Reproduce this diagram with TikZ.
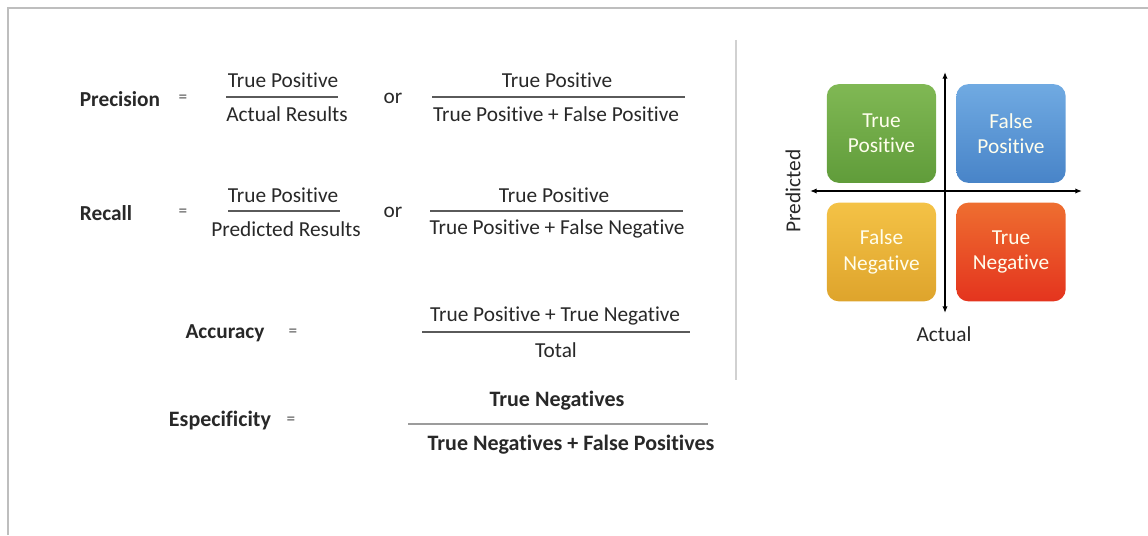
\documentclass[tikz,border=0pt]{standalone}
\usepackage{fontspec}
\setmainfont{Carlito}[Ligatures=NoCommon]
\usetikzlibrary{arrows.meta}

\definecolor{inkgray}{RGB}{40,40,40}
\definecolor{framegray}{RGB}{190,190,190}
\definecolor{bargray}{RGB}{90,90,90}

\tikzset{every picture/.style={line width=0.75pt}}
\tikzset{
  formula/.style={text=inkgray, font=\fontsize{16}{19}\selectfont, inner sep=1pt},
  lhs/.style={formula, font=\fontsize{16}{19}\selectfont\bfseries},
  eqsign/.style={text=inkgray!80, font=\fontsize{13}{15}\selectfont},
  fracbar/.style={draw=bargray, line width=1.5},
  cell/.style={rounded corners=9, minimum width=82, minimum height=74, inner sep=0,
    align=center, text=white!93!yellow, font=\fontsize{16}{19}\selectfont},
  axis/.style={draw=black, line width=1, {Latex[length=5pt,width=4pt]}-{Latex[length=5pt,width=4pt]}}
}

\begin{document}
\begin{tikzpicture}[x=0.75pt,y=0.75pt,yscale=-1,xscale=1]
\path[use as bounding box] (0,0) rectangle (1148,535);

%Frame
\draw [color=framegray, line width=1.5] (8,535) -- (8,8) -- (1148,8) ;
%Divider
\draw [color=framegray!70, line width=1.5] (736,40) -- (736,380) ;

% Precision
\draw (120,99) node [lhs] (prec) {Precision};
\draw (183,99) node [eqsign] (precEq) {=};
\draw (283,80) node [formula] (precNumA) {True Positive};
\draw (287,114) node [formula] (precDenA) {Actual Results};
\draw [fracbar] (226,97) -- (338,97) ;
\draw (393,98) node [formula] (precOr) {or};
\draw (557,80) node [formula] (precNumB) {True Positive};
\draw (556,114) node [formula] (precDenB) {True Positive + False Positive};
\draw [fracbar] (432,97) -- (685,97) ;

% Recall
\draw (106,213) node [lhs] (rec) {Recall};
\draw (183,213) node [eqsign] (recEq) {=};
\draw (283,195) node [formula] (recNumA) {True Positive};
\draw (286,229) node [formula] (recDenA) {Predicted Results};
\draw [fracbar] (228,211) -- (340,211) ;
\draw (393,212) node [formula] (recOr) {or};
\draw (554,195) node [formula] (recNumB) {True Positive};
\draw (557,229) node [formula] (recDenB) {True Positive + False Negative};
\draw [fracbar] (430,211) -- (683,211) ;

% Accuracy
\draw (225,333) node [lhs] (acc) {Accuracy};
\draw (293,333) node [eqsign] (accEq) {=};
\draw (555,316) node [formula] (accNum) {True Positive + True Negative};
\draw (556,350) node [formula] (accDen) {Total};
\draw [fracbar] (422,332) -- (690,332) ;

% Especificity
\draw (220,421) node [lhs, font=\fontsize{16.5}{19}\selectfont\bfseries] (spec) {Especificity};
\draw (291,421) node [eqsign] (specEq) {=};
\draw (557,401) node [lhs, font=\fontsize{16.5}{19}\selectfont\bfseries] (specNum) {True Negatives};
\draw (571,445) node [lhs, font=\fontsize{16.5}{19}\selectfont\bfseries] (specDen) {True Negatives + False Positives};
\draw [draw=bargray!60, line width=1] (408,424) -- (708,424) ;

% Confusion matrix
\draw (881.5,133.5) node [cell, top color={rgb,255:red,128;green,184;blue,84}, bottom color={rgb,255:red,96;green,156;blue,58}] (tp) {True\\Positive};
\draw (1011,133.5) node [cell, top color={rgb,255:red,112;green,170;blue,226}, bottom color={rgb,255:red,72;green,132;blue,200}] (fp) {False\\Positive};
\draw (881.5,252) node [cell, top color={rgb,255:red,244;green,194;blue,70}, bottom color={rgb,255:red,222;green,164;blue,44}] (fn) {False\\Negative};
\draw (1011,252) node [cell, top color={rgb,255:red,238;green,110;blue,48}, bottom color={rgb,255:red,228;green,52;blue,30}] (tn) {True\\Negative};

\coordinate (axTop) at (945,72);
\coordinate (axBot) at (945,313);
\coordinate (axLeft) at (810,191);
\coordinate (axRight) at (1082,191);
\draw [axis] (axTop) -- (axBot) ;
\draw [axis] (axLeft) -- (axRight) ;

\draw (793,191) node [formula, rotate=90] (pred) {Predicted};
\draw (944,334) node [formula] (act) {Actual};

\end{tikzpicture}
\end{document}
